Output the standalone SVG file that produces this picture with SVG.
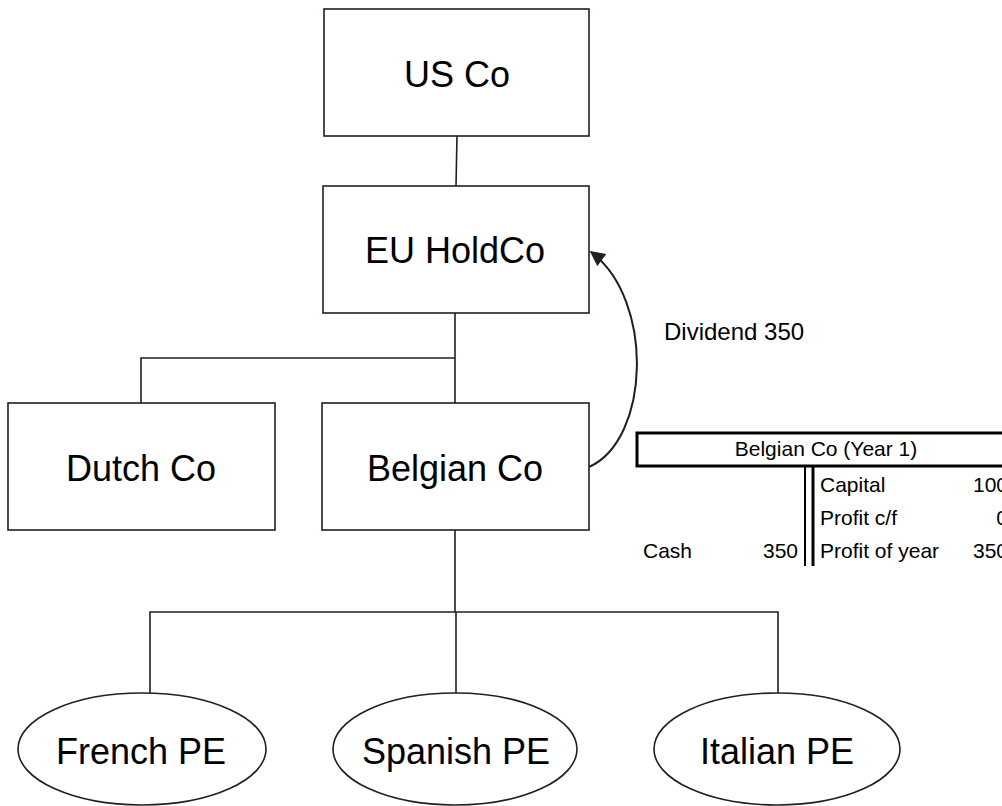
<svg xmlns="http://www.w3.org/2000/svg" width="1002" height="806" viewBox="0 0 1002 806">
  <style>
    .box { fill: #ffffff; stroke: #231f20; stroke-width: 1.6; }
    .wire { fill: none; stroke: #231f20; stroke-width: 1.6; }
    .flow { fill: none; stroke: #231f20; stroke-width: 2; }
    .big { font-family: "Liberation Sans", Arial, sans-serif; font-size: 36px; fill: #000000; text-anchor: middle; }
    .lbl { font-family: "Liberation Sans", Arial, sans-serif; font-size: 24px; fill: #000000; }
    .tbl { font-family: "Liberation Sans", Arial, sans-serif; font-size: 21px; fill: #000000; }
    .rule { stroke: #000000; fill: none; }
  </style>
  <defs>
    <marker id="arrowBig" viewBox="0 0 10 10" refX="9" refY="5" markerWidth="17" markerHeight="15" markerUnits="userSpaceOnUse" orient="auto">
      <path d="M0,0 L10,5 L0,10 Z" fill="#231f20"/>
    </marker>
  </defs>

  <!-- ownership lines -->
  <g id="connectors">
    <line class="wire" x1="457" y1="136" x2="456" y2="186"/>
    <polyline class="wire" points="455,313 455,403"/>
    <polyline class="wire" points="455,358 141,358 141,403"/>
    <polyline class="wire" points="455,530 455,612"/>
    <polyline class="wire" points="150,693 150,612 778,612 778,693"/>
    <line class="wire" x1="456" y1="612" x2="456" y2="693"/>
    <!-- dividend flow -->
    <path class="flow" d="M589,467 C650,440 655,300 591,252" marker-end="url(#arrowBig)"/>
  </g>

  <g id="us-co">
    <rect class="box" x="324" y="9" width="265" height="127"/>
    <text class="big" x="457" y="87">US Co</text>
  </g>

  <g id="eu-holdco">
    <rect class="box" x="323" y="186" width="266" height="127"/>
    <text class="big" x="455" y="263">EU HoldCo</text>
  </g>

  <g id="dutch-co">
    <rect class="box" x="8" y="403" width="267" height="127"/>
    <text class="big" x="141" y="481">Dutch Co</text>
  </g>

  <g id="belgian-co">
    <rect class="box" x="322" y="403" width="267" height="127"/>
    <text class="big" x="455" y="481">Belgian Co</text>
  </g>

  <g id="french-pe">
    <ellipse class="box" cx="142" cy="749" rx="124" ry="56"/>
    <text class="big" x="141" y="764">French PE</text>
  </g>

  <g id="spanish-pe">
    <ellipse class="box" cx="455" cy="749" rx="122" ry="56"/>
    <text class="big" x="456" y="764">Spanish PE</text>
  </g>

  <g id="italian-pe">
    <ellipse class="box" cx="777" cy="749" rx="123" ry="56"/>
    <text class="big" x="777" y="764">Italian PE</text>
  </g>

  <g id="dividend-label">
    <text class="lbl" x="664" y="340">Dividend 350</text>
  </g>

  <!-- T-account of Belgian Co, running past the right edge -->
  <g id="belgian-account">
    <rect class="rule" x="637" y="433" width="400" height="33" stroke-width="3"/>
    <text class="tbl" x="826" y="456" text-anchor="middle">Belgian Co (Year 1)</text>
    <line class="rule" x1="805" y1="466" x2="805" y2="566" stroke-width="2"/>
    <line class="rule" x1="813" y1="466" x2="813" y2="566" stroke-width="3"/>
    <text class="tbl" x="820" y="492">Capital</text>
    <text class="tbl" x="1008" y="492" text-anchor="end">100</text>
    <text class="tbl" x="820" y="525">Profit c/f</text>
    <text class="tbl" x="1008" y="525" text-anchor="end">0</text>
    <text class="tbl" x="643" y="558">Cash</text>
    <text class="tbl" x="798" y="558" text-anchor="end">350</text>
    <text class="tbl" x="820" y="558">Profit of year</text>
    <text class="tbl" x="1008" y="558" text-anchor="end">350</text>
  </g>
</svg>
